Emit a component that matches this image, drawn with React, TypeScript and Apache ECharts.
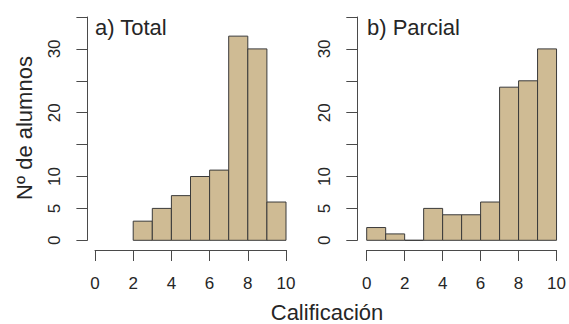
import React, { useEffect, useRef } from "react";
import * as echarts from "echarts";

const binStartsTotal = [2, 3, 4, 5, 6, 7, 8, 9];
const countsTotal = [3, 5, 7, 10, 11, 32, 30, 6];
const binStartsParcial = [0, 1, 2, 3, 4, 5, 6, 7, 8, 9];
const countsParcial = [2, 1, 0, 5, 4, 4, 6, 24, 25, 30];
const binWidth = 1;
const yLabelValues = [0, 5, 10, 20, 30];
const panelTitles = ["a) Total", "b) Parcial"];
const xTitle = "Calificación";
const yTitle = "Nº de alumnos";

const FONT = "'Liberation Sans', Arial, Helvetica, sans-serif";
const FILL = "#CFBB94";
const EDGE = "#3a3a3a";
const AXIS = "#4a4a4a";
const TEXT = "#262626";

function buildData(starts: number[], counts: number[]) {
  return starts.map((s, i) => [s, s + binWidth, counts[i]]);
}

export default function App() {
  const ref = useRef<HTMLDivElement>(null);
  useEffect(() => {
    if (!ref.current) return;
    const chart = echarts.init(ref.current, null, { renderer: "svg" });
    const grids = [
      { left: 95, top: 17, width: 191, height: 223.3 },
      { left: 366.7, top: 17, width: 190, height: 223.3 },
    ];
    const yOffsets = [7.6, 9.4];
    const xAxis = grids.map((_, i) => ({
      type: "value",
      gridIndex: i,
      min: 0,
      max: 10,
      interval: 2,
      position: "bottom",
      offset: 9.7,
      axisLine: { show: true, onZero: false, lineStyle: { color: AXIS, width: 1 } },
      axisTick: { show: true, length: 11, lineStyle: { color: AXIS, width: 1 } },
      axisLabel: { fontSize: 17, color: TEXT, fontFamily: FONT, margin: 25 },
      splitLine: { show: false },
    }));
    const yAxis = grids.map((_, i) => ({
      type: "value",
      gridIndex: i,
      min: 0,
      max: 35,
      interval: 5,
      position: "left",
      offset: yOffsets[i],
      axisLine: { show: true, onZero: false, lineStyle: { color: AXIS, width: 1 } },
      axisTick: { show: true, length: 11, lineStyle: { color: AXIS, width: 1 } },
      axisLabel: {
        fontSize: 17,
        color: TEXT,
        fontFamily: FONT,
        rotate: 90,
        margin: 24,
        formatter: (v: number) => (yLabelValues.includes(v) ? String(v) : ""),
      },
      splitLine: { show: false },
    }));
    const renderItem = (params: any, api: any) => {
      const x0 = api.value(0);
      const x1 = api.value(1);
      const y = api.value(2);
      const p0 = api.coord([x0, y]);
      const p1 = api.coord([x1, 0]);
      return {
        type: "rect",
        shape: { x: p0[0], y: p0[1], width: p1[0] - p0[0], height: p1[1] - p0[1] },
        style: { fill: FILL, stroke: EDGE, lineWidth: 1 },
      };
    };
    chart.setOption({
      animation: false,
      grid: grids,
      xAxis,
      yAxis,
      series: [
        {
          type: "custom",
          xAxisIndex: 0,
          yAxisIndex: 0,
          renderItem,
          encode: { x: [0, 1], y: 2 },
          data: buildData(binStartsTotal, countsTotal),
        },
        {
          type: "custom",
          xAxisIndex: 1,
          yAxisIndex: 1,
          renderItem,
          encode: { x: [0, 1], y: 2 },
          data: buildData(binStartsParcial, countsParcial),
        },
      ],
      graphic: [
        {
          type: "text",
          x: 95,
          y: 27,
          style: { text: panelTitles[0], fontSize: 22, fontFamily: FONT, fill: TEXT, verticalAlign: "middle", align: "left" },
        },
        {
          type: "text",
          x: 367,
          y: 27,
          style: { text: panelTitles[1], fontSize: 22, fontFamily: FONT, fill: TEXT, verticalAlign: "middle", align: "left" },
        },
        {
          type: "text",
          x: 327,
          y: 312,
          style: { text: xTitle, fontSize: 22, fontFamily: FONT, fill: TEXT, verticalAlign: "middle", align: "center" },
        },
        {
          type: "text",
          x: 24,
          y: 128,
          rotation: Math.PI / 2,
          style: { text: yTitle, fontSize: 22, fontFamily: FONT, fill: TEXT, verticalAlign: "middle", align: "center" },
        },
      ],
    });
    return () => chart.dispose();
  }, []);
  return (
    <div
      ref={ref}
      style={{ position: "fixed", left: 0, top: 0, width: 569, height: 324, background: "#fff" }}
    />
  );
}
